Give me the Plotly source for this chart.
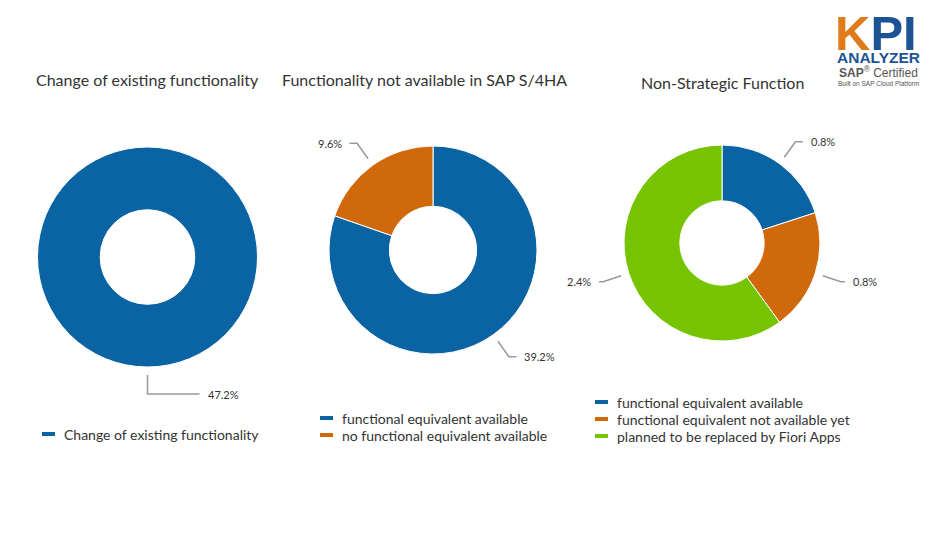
import math
import plotly.graph_objects as go

W, H = 930, 540
OX, OY = 8, 8  # page body margin offset

# ---------------- data ----------------
title1 = "Change of existing functionality"
cat1 = ["Change of existing functionality"]
val1 = [47.2]

title2 = "Functionality not available in SAP S/4HA"
cat2 = ["functional equivalent available", "no functional equivalent available"]
val2 = [39.2, 9.6]

title3 = "Non-Strategic Function"
cat3 = ["functional equivalent available",
        "functional equivalent not available yet",
        "planned to be replaced by Fiori Apps"]
val3 = [0.8, 0.8, 2.4]

BLUE, ORANGE, GREEN = "#0a64a4", "#d0690b", "#76c400"
col1 = [BLUE]
col2 = [BLUE, ORANGE]
col3 = [BLUE, ORANGE, GREEN]

# ---------------- layout geometry (pixels, page coordinates) ----------------
charts = [
    dict(cats=cat1, vals=val1, cols=col1, title=title1, cx=147.5, cy=257, r=110, hole=0.43,
         tx=147.5, ty=80, tanchor="center", lx=42, lbase=434),
    dict(cats=cat2, vals=val2, cols=col2, title=title2, cx=433, cy=250, r=104, hole=0.42,
         tx=280, ty=80, tanchor="left", lx=320, lbase=435),
    dict(cats=cat3, vals=val3, cols=col3, title=title3, cx=722, cy=243, r=98, hole=0.43,
         tx=722, ty=82, tanchor="center", lx=595, lbase=436),
]

FONT = "Lato"
TXT = "#333333"


def px(x):
    return (x - OX) / W


def py(y):
    return 1 - (y - OY) / H


fig = go.Figure()
shapes = []
annotations = []

for ch in charts:
    cx, cy, r = ch["cx"], ch["cy"], ch["r"]
    fig.add_trace(go.Pie(
        labels=ch["cats"], values=ch["vals"],
        marker=dict(colors=ch["cols"], line=dict(color="white", width=1)),
        hole=ch["hole"], sort=False, direction="clockwise", rotation=0,
        textinfo="none", showlegend=False,
        hovertemplate="%{label}: %{value}%<extra></extra>",
        domain=dict(x=[px(cx - r), px(cx + r)], y=[py(cy + r), py(cy - r)]),
    ))

    # title
    annotations.append(dict(
        text=ch["title"], x=px(ch["tx"]), y=py(ch["ty"]),
        xanchor=ch["tanchor"], yanchor="middle",
        font=dict(family=FONT, size=16, color=TXT)))

    # data labels with leader lines
    total = sum(ch["vals"])
    cum = 0.0
    for v in ch["vals"]:
        th = 2 * math.pi * (cum + v / 2) / total
        cum += v
        s, c = math.sin(th), math.cos(th)
        x0, y0 = cx + (r + 8) * s, cy - (r + 8) * c
        x1, y1 = cx + (r + 27) * s, cy - (r + 27) * c
        side = 1 if s >= -1e-9 else -1
        hl = 4 + 48 * (1 - abs(s)) ** 3
        x2, y2 = x1 + side * hl, y1
        shapes.append(dict(
            type="path", xref="paper", yref="paper",
            path=f"M {px(x0)},{py(y0)} L {px(x1)},{py(y1)} L {px(x2)},{py(y2)}",
            line=dict(color="#999999", width=1.5)))
        annotations.append(dict(
            text=f"{v:.1f}%", x=px(x2 + side * 6), y=py(y2),
            xanchor="left" if side > 0 else "right", yanchor="middle",
            font=dict(family=FONT, size=11, color=TXT)))

    # legend (custom, line symbols)
    n = len(ch["cats"])
    for i, (cat, col) in enumerate(zip(ch["cats"], ch["cols"])):
        ly = ch["lbase"] - (n - 1 - i) * 17
        shapes.append(dict(type="line", xref="paper", yref="paper",
                           x0=px(ch["lx"]), x1=px(ch["lx"] + 13), y0=py(ly), y1=py(ly),
                           line=dict(color=col, width=4)))
        annotations.append(dict(
            text=cat, x=px(ch["lx"] + 20), y=py(ly),
            xanchor="left", yanchor="middle",
            font=dict(family=FONT, size=14, color=TXT)))

# ---------------- logo (text approximation) ----------------
LOGO_BLUE = "#1d5394"
LOGO_ORANGE = "#e07b1a"
annotations += [
    dict(text=f"<b><span style='color:{LOGO_ORANGE}'>K</span>PI</b>", x=px(833), y=py(33),
         xanchor="left", yanchor="middle",
         font=dict(family="Liberation Sans", size=49, color=LOGO_BLUE)),
    dict(text="<b>ANALYZER</b>", x=px(878), y=py(58), xanchor="center", yanchor="middle",
         font=dict(family="Liberation Sans", size=15.5, color=LOGO_BLUE)),
    dict(text="<b>SAP</b><sup>®</sup> Certified", x=px(878), y=py(72), xanchor="center", yanchor="middle",
         font=dict(family="Liberation Sans", size=12, color="#555555")),
    dict(text="Built on SAP Cloud Platform", x=px(878), y=py(84), xanchor="center", yanchor="middle",
         font=dict(family="Liberation Sans", size=6.5, color="#555555")),
]
for a in annotations:
    a.setdefault("xref", "paper")
    a.setdefault("yref", "paper")
    a.setdefault("showarrow", False)

fig.update_layout(
    width=W, height=H,
    margin=dict(l=0, r=0, t=0, b=0),
    paper_bgcolor="white", plot_bgcolor="white",
    shapes=shapes, annotations=annotations,
    font=dict(family=FONT, color=TXT),
)

fig.write_html("out.html")
